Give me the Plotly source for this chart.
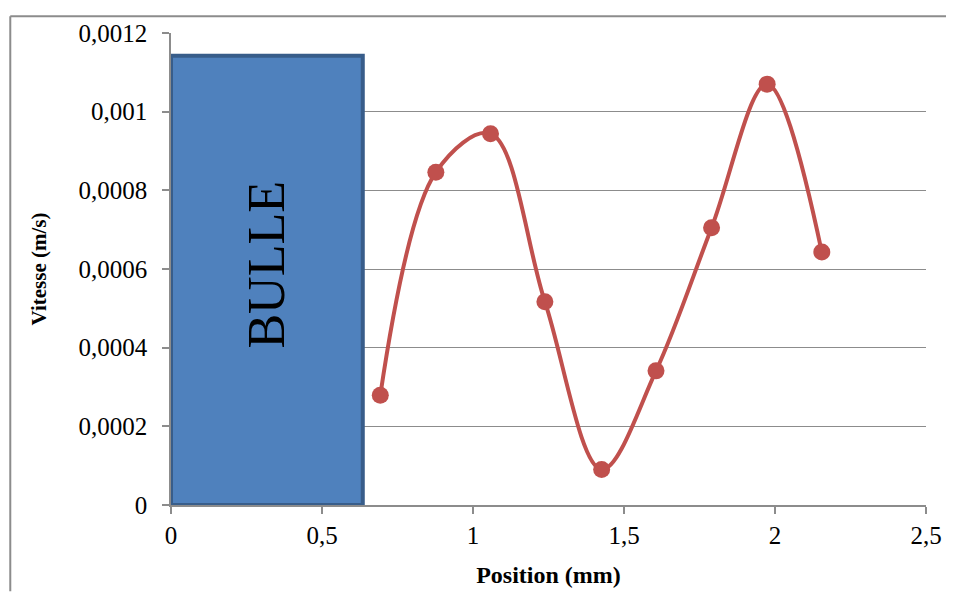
import plotly.graph_objects as go

# Données
position_mm = [0.693, 0.877, 1.058, 1.238, 1.426, 1.606, 1.790, 1.974, 2.155]
vitesse_ms = [0.000279, 0.000846, 0.000944, 0.000517, 0.0000904,
              0.000341, 0.000705, 0.00107, 0.000643]

# Zone de la bulle
bulle_x = [0, 0.635]
bulle_top = 0.001142

x_ticks = [0, 0.5, 1, 1.5, 2, 2.5]
x_labels = ["0", "0,5", "1", "1,5", "2", "2,5"]
y_ticks = [0, 0.0002, 0.0004, 0.0006, 0.0008, 0.001, 0.0012]
y_labels = ["0", "0,0002", "0,0004", "0,0006", "0,0008", "0,001", "0,0012"]

serif = "Liberation Serif, Times New Roman, serif"
gris = "#8c8c8c"

# la page ajoute 8 px de marge autour du graphique
W, H = 946, 588
L, R, T, B = 163, 22, 18, 88
pw, ph = W - L - R, H - T - B

fig = go.Figure()

fig.add_shape(type="rect", xref="x", yref="y",
              x0=bulle_x[0], x1=bulle_x[1], y0=0, y1=bulle_top,
              fillcolor="#4F81BD", line=dict(color="#385D8A", width=4),
              layer="above")

fig.add_trace(go.Scatter(
    x=position_mm, y=vitesse_ms,
    mode="lines+markers",
    line=dict(color="#C0504D", width=4, shape="spline", smoothing=1),
    marker=dict(color="#C0504D", size=17),
    showlegend=False,
    cliponaxis=False,
))

fig.add_annotation(x=sum(bulle_x) / 2, y=bulle_top / 2 + 0.00004, xref="x", yref="y",
                   text="BULLE", showarrow=False, textangle=-90,
                   font=dict(family=serif, size=52, color="black"))

# cadre du graphique (bords gauche et haut)
fx0 = (1 - L) / pw
fy1 = 1 + (T - 1) / ph
fig.add_shape(type="line", xref="paper", yref="paper",
              x0=fx0, x1=fx0, y0=-B / ph, y1=fy1,
              line=dict(color=gris, width=2))
fig.add_shape(type="line", xref="paper", yref="paper",
              x0=fx0, x1=1 + R / pw, y0=fy1, y1=fy1,
              line=dict(color=gris, width=2))

fig.update_layout(
    width=W, height=H,
    margin=dict(l=L, r=R, t=T, b=B),
    paper_bgcolor="white", plot_bgcolor="white",
    font=dict(family=serif, size=25, color="black"),
    xaxis=dict(
        range=[0, 2.5], tickvals=x_ticks, ticktext=x_labels,
        tickfont=dict(family=serif, size=25),
        showgrid=False, zeroline=False,
        showline=True, linecolor=gris, linewidth=1.5,
        ticks="outside", ticklen=7, tickcolor=gris, tickwidth=1.5,
        title=dict(text="<b>Position (mm)</b>", font=dict(family=serif, size=24), standoff=18),
    ),
    yaxis=dict(
        range=[0, 0.0012], tickvals=y_ticks, ticktext=y_labels,
        tickfont=dict(family=serif, size=25),
        ticklabelstandoff=10,
        showgrid=True, gridcolor=gris, gridwidth=1.2,
        zeroline=False,
        showline=True, linecolor=gris, linewidth=1.5,
        ticks="outside", ticklen=7, tickcolor=gris, tickwidth=1.5,
        title=dict(text="<b>Vitesse (m/s)</b>", font=dict(family=serif, size=21), standoff=26),
    ),
)

fig.write_html("out.html")
